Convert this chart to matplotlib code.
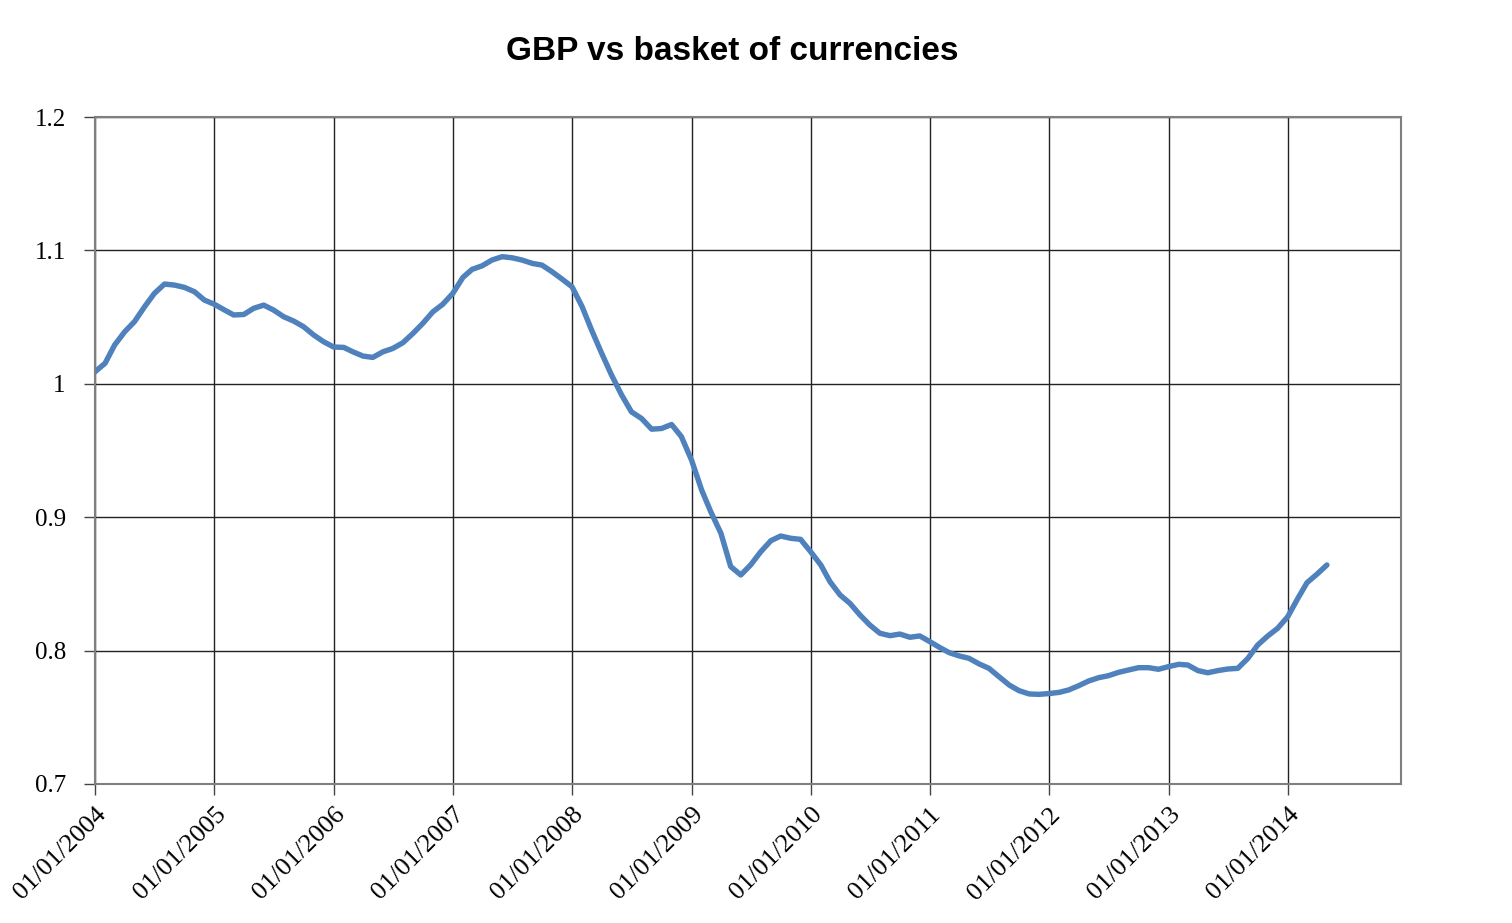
import numpy as np
import pandas as pd
import matplotlib
matplotlib.use("Agg")
from matplotlib import pyplot as plt
import matplotlib.dates as mdates

# monthly index values, Jan 2004 .. May 2014
gbp_2004 = [1.009, 1.0154, 1.029, 1.039, 1.0466, 1.0578, 1.0678, 1.0748, 1.074, 1.0723, 1.069, 1.0628]
gbp_2005 = [1.0596, 1.0553, 1.0516, 1.052, 1.0566, 1.059, 1.0553, 1.0503, 1.047, 1.0428, 1.0366, 1.0316]
gbp_2006 = [1.0276, 1.0273, 1.024, 1.0208, 1.0198, 1.024, 1.0265, 1.0308, 1.0378, 1.0453, 1.054, 1.0596]
gbp_2007 = [1.0678, 1.0798, 1.0858, 1.0885, 1.0928, 1.0953, 1.0945, 1.0928, 1.0903, 1.089, 1.084, 1.0786]
gbp_2008 = [1.0728, 1.0578, 1.0403, 1.0228, 1.0066, 0.9916, 0.979, 0.974, 0.966, 0.9665, 0.9695, 0.9604]
gbp_2009 = [0.9429, 0.9204, 0.9041, 0.888, 0.863, 0.8567, 0.8642, 0.8741, 0.8824, 0.8859, 0.8842, 0.8834]
gbp_2010 = [0.8741, 0.8642, 0.8517, 0.8417, 0.8355, 0.8267, 0.8192, 0.813, 0.8112, 0.8124, 0.81, 0.811]
gbp_2011 = [0.8067, 0.8022, 0.7985, 0.796, 0.7942, 0.79, 0.7867, 0.7804, 0.7742, 0.77, 0.7675, 0.7672]
gbp_2012 = [0.7678, 0.7687, 0.7705, 0.7737, 0.7772, 0.7797, 0.7812, 0.7837, 0.7855, 0.7872, 0.7872, 0.786]
gbp_2013 = [0.788, 0.7897, 0.7892, 0.785, 0.7834, 0.785, 0.7862, 0.7867, 0.7942, 0.8042, 0.811, 0.8167]
gbp_2014 = [0.8254, 0.8392, 0.8509, 0.8574, 0.8642]

values = (gbp_2004 + gbp_2005 + gbp_2006 + gbp_2007 + gbp_2008 + gbp_2009
          + gbp_2010 + gbp_2011 + gbp_2012 + gbp_2013 + gbp_2014)
dates = pd.date_range("2004-01-01", periods=len(values), freq="MS")

years = list(range(2004, 2015))
y_ticks = [0.7, 0.8, 0.9, 1.0, 1.1, 1.2]
y_labels = ["0.7", "0.8", "0.9", "1", "1.1", "1.2"]

fig = plt.figure(figsize=(15.12, 9.23), dpi=100)
ax = fig.add_axes([0.0628, 0.1506, 0.8636, 0.7226])

ax.plot(dates, values, color="#4F81BD", linewidth=3.9, solid_capstyle="round")

ax.set_ylim(0.7, 1.2)
ax.set_yticks(y_ticks)
ax.set_yticklabels(y_labels, fontfamily="Liberation Serif", fontsize=18)

ax.set_xlim(pd.Timestamp("2004-01-01"), pd.Timestamp("2014-12-13"))
year_ticks = [pd.Timestamp(f"{y}-01-01") for y in years]
ax.set_xticks(year_ticks)
ax.set_xticklabels([f"01/01/{y}" for y in years], fontfamily="Liberation Serif",
                   fontsize=19, rotation=45, ha="right", rotation_mode="anchor")

ax.grid(True, color="#222222", linewidth=1.0)
ax.set_axisbelow(True)
for s in ax.spines.values():
    s.set_color("#7f7f7f")
    s.set_linewidth(1.5)
ax.tick_params(axis="both", direction="out", length=8, width=1, color="#444444")
ax.tick_params(axis="y", pad=13)
ax.tick_params(axis="x", pad=6)

fig.text(0.484, 0.944, "GBP vs basket of currencies", ha="center", va="center",
         fontfamily="Liberation Sans", fontweight="bold", fontsize=24)

fig.savefig("out.png", dpi=100)
